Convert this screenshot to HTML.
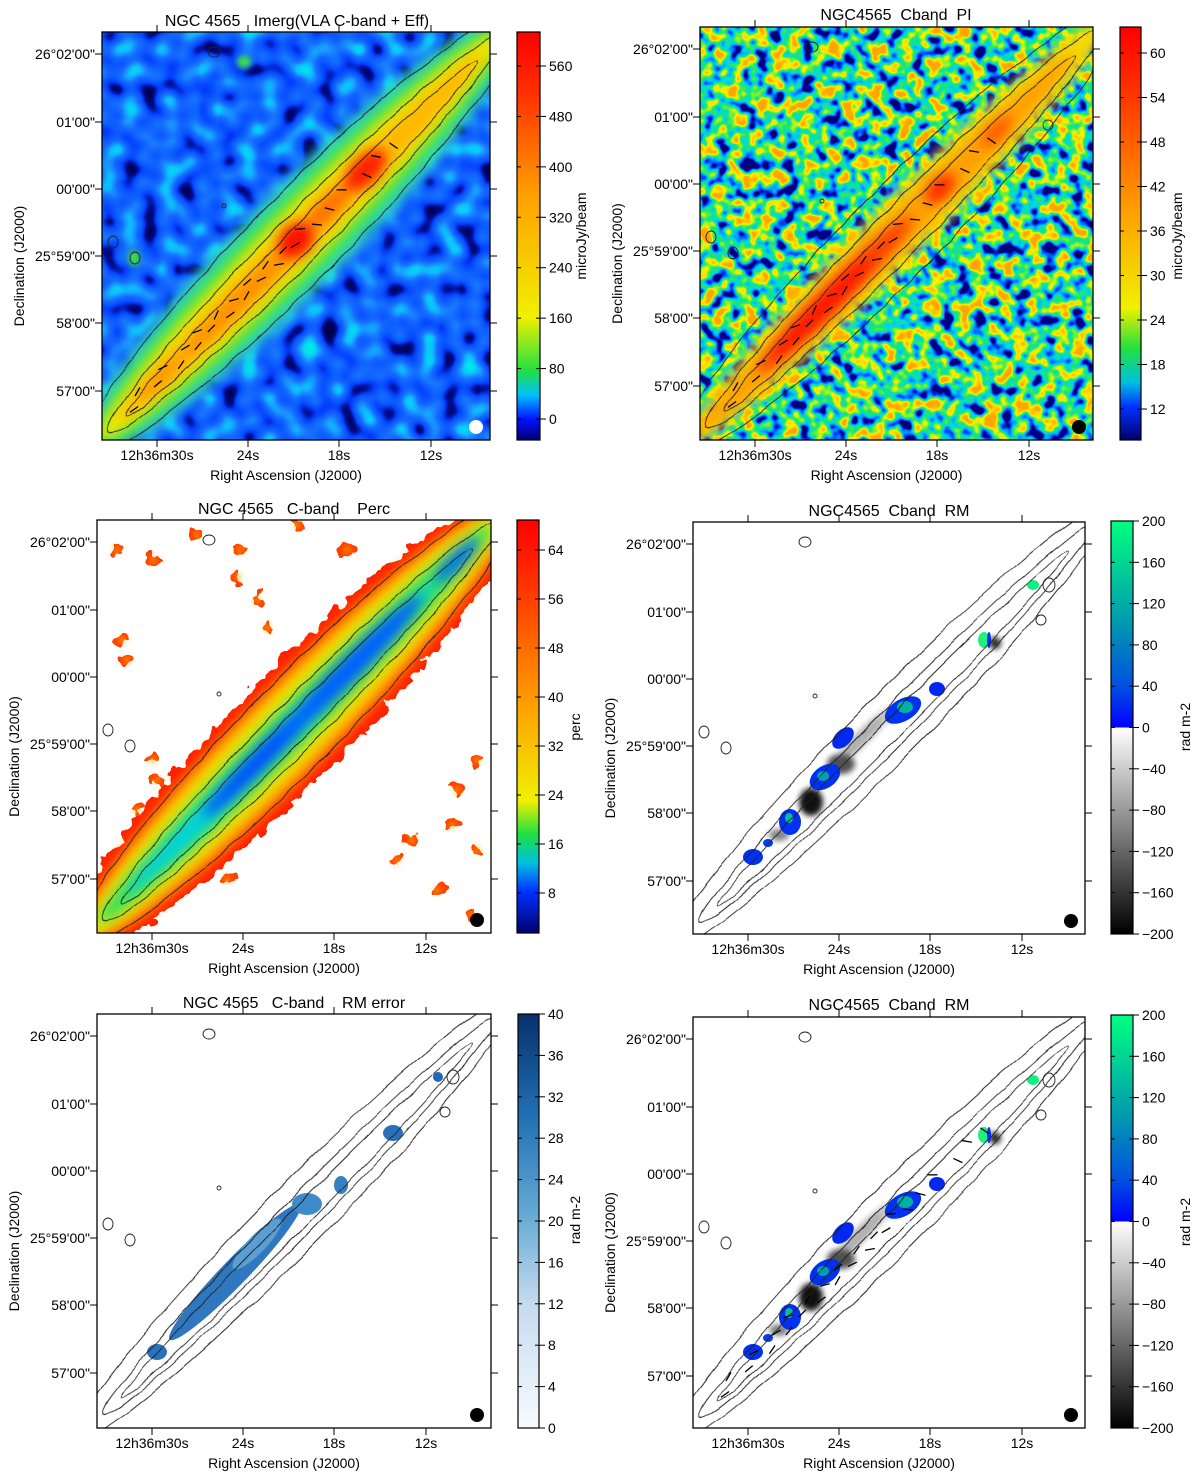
<!DOCTYPE html>
<html><head><meta charset="utf-8"><style>
html,body{margin:0;padding:0;background:#fff;}
svg{display:block;font-family:"Liberation Sans",sans-serif;}
text{fill:#000;}
filter{color-interpolation-filters:sRGB;}
</style></head><body>
<svg id="fig" xmlns="http://www.w3.org/2000/svg" width="1200" height="1480" viewBox="0 0 1200 1480">
<defs>
<filter id="noise1" x="0" y="0" width="1" height="1" filterUnits="objectBoundingBox" color-interpolation-filters="sRGB">
<feTurbulence type="fractalNoise" baseFrequency="0.05" numOctaves="1" seed="3"/>
<feColorMatrix type="matrix" values="1 0 0 0 0 1 0 0 0 0 1 0 0 0 0 0 0 0 0 1"/>
<feComponentTransfer><feFuncR type="linear" slope="1.8" intercept="-0.4"/><feFuncG type="linear" slope="1.8" intercept="-0.4"/><feFuncB type="linear" slope="1.8" intercept="-0.4"/></feComponentTransfer>
<feComponentTransfer><feFuncR type="table" tableValues="0 0 0.02 0.05 0.08 0.1 0.05 0"/><feFuncG type="table" tableValues="0 0.05 0.25 0.36 0.42 0.55 0.75 0.9"/><feFuncB type="table" tableValues="0.3 0.55 1 1 1 1 1 0.9"/></feComponentTransfer>
</filter>
<filter id="noise2" x="0" y="0" width="1" height="1" filterUnits="objectBoundingBox" color-interpolation-filters="sRGB">
<feTurbulence type="fractalNoise" baseFrequency="0.07" numOctaves="2" seed="7"/>
<feColorMatrix type="matrix" values="1 0 0 0 0 1 0 0 0 0 1 0 0 0 0 0 0 0 0 1"/>
<feComponentTransfer><feFuncR type="linear" slope="2.4" intercept="-0.72"/><feFuncG type="linear" slope="2.4" intercept="-0.72"/><feFuncB type="linear" slope="2.4" intercept="-0.72"/></feComponentTransfer>
<feComponentTransfer><feFuncR type="table" tableValues="0 0 0 0 0.1 0.5 1 1 1"/><feFuncG type="table" tableValues="0 0.25 0.6 0.85 0.9 0.95 0.95 0.8 0.65"/><feFuncB type="table" tableValues="0.5 1 1 0.9 0.45 0.2 0 0 0"/></feComponentTransfer>
</filter>
<filter id="blur6" x="-20%" y="-50%" width="140%" height="200%" color-interpolation-filters="sRGB"><feGaussianBlur stdDeviation="6"/></filter>
<filter id="blur3" x="-20%" y="-50%" width="140%" height="200%" color-interpolation-filters="sRGB"><feGaussianBlur stdDeviation="3"/></filter>
<filter id="crisp" x="-20%" y="-60%" width="140%" height="220%" color-interpolation-filters="sRGB">
<feGaussianBlur in="SourceGraphic" stdDeviation="4" result="b"/>
<feTurbulence type="fractalNoise" baseFrequency="0.08" numOctaves="2" seed="11" result="t"/>
<feDisplacementMap in="b" in2="t" scale="20" xChannelSelector="R" yChannelSelector="G" result="d"/>
<feComponentTransfer in="d"><feFuncA type="discrete" tableValues="0 0 1 1 1"/></feComponentTransfer>
</filter>
<filter id="wob" x="-20%" y="-50%" width="140%" height="200%">
<feTurbulence type="fractalNoise" baseFrequency="0.05" numOctaves="1" seed="5" result="t"/>
<feDisplacementMap in="SourceGraphic" in2="t" scale="5" xChannelSelector="R" yChannelSelector="G"/>
</filter>
<linearGradient id="cmap1" x1="0" y1="1" x2="0" y2="0"><stop offset="0" stop-color="#000070"/><stop offset="0.05" stop-color="#0010ff"/><stop offset="0.11" stop-color="#00c0ff"/><stop offset="0.17" stop-color="#20e040"/><stop offset="0.3" stop-color="#f0f000"/><stop offset="0.6" stop-color="#ffa000"/><stop offset="0.85" stop-color="#ff3000"/><stop offset="1" stop-color="#ff0000"/></linearGradient>
<linearGradient id="cmap2" x1="0" y1="1" x2="0" y2="0"><stop offset="0" stop-color="#000070"/><stop offset="0.08" stop-color="#0030ff"/><stop offset="0.14" stop-color="#00c0e0"/><stop offset="0.22" stop-color="#20e040"/><stop offset="0.32" stop-color="#f0f000"/><stop offset="0.55" stop-color="#ffa000"/><stop offset="0.85" stop-color="#ff3000"/><stop offset="1" stop-color="#ff0000"/></linearGradient>
<linearGradient id="cmap3" x1="0" y1="1" x2="0" y2="0"><stop offset="0" stop-color="#000070"/><stop offset="0.1" stop-color="#0030ff"/><stop offset="0.17" stop-color="#00c0e0"/><stop offset="0.24" stop-color="#20e040"/><stop offset="0.32" stop-color="#f0f000"/><stop offset="0.55" stop-color="#ffa000"/><stop offset="0.85" stop-color="#ff3000"/><stop offset="1" stop-color="#ff0000"/></linearGradient>
<linearGradient id="cmapRM" x1="0" y1="1" x2="0" y2="0"><stop offset="0" stop-color="#000000"/><stop offset="0.5" stop-color="#ffffff"/><stop offset="0.5" stop-color="#0000ff"/><stop offset="0.6" stop-color="#0050e0"/><stop offset="0.75" stop-color="#0098b0"/><stop offset="1" stop-color="#00ff80"/></linearGradient>
<linearGradient id="cmapErr" x1="0" y1="1" x2="0" y2="0"><stop offset="0" stop-color="#f7fbff"/><stop offset="0.3" stop-color="#c6dbef"/><stop offset="0.5" stop-color="#6baed6"/><stop offset="0.75" stop-color="#2171b5"/><stop offset="1" stop-color="#08306b"/></linearGradient>
</defs>
</svg>
<script>
// ---- colorbar data ----
const cb1Ticks=[0,80,160,240,320,400,480,560];
const cb2Ticks=[12,18,24,30,36,42,48,54,60];
const cb3Ticks=[8,16,24,32,40,48,56,64];
const cb4Ticks=[-200,-160,-120,-80,-40,0,40,80,120,160,200];
const cb5Ticks=[0,4,8,12,16,20,24,28,32,36,40];
const cb6Ticks=[-200,-160,-120,-80,-40,0,40,80,120,160,200];
const raLabels=["12h36m30s","24s","18s","12s"];
const decLabels=["26°02'00\"","01'00\"","00'00\"","25°59'00\"","58'00\"","57'00\""];
// polarization vectors (u along galaxy, v across, angle deg)
const vecU=[-240,-225,-205,-190,-175,-160,-150,-140,-128,-115,-105,-92,-80,-70,-58,-45,-35,-22,-10,5,20,40,62,90,110,130];
const vecV=[4,-6,3,-5,6,-3,5,-6,2,-4,6,-2,4,-5,3,-4,5,-2,3,-5,4,2,-3,5,-2,3];
const vecA=[10,-15,5,20,-10,15,-5,25,0,-20,10,30,-15,5,20,-10,35,0,15,40,50,60,45,70,55,80];

const NS='http://www.w3.org/2000/svg';
const svg=document.getElementById('fig');
function mk(tag,attrs,parent){const e=document.createElementNS(NS,tag);for(const k in attrs)e.setAttribute(k,attrs[k]);(parent||svg).appendChild(e);return e;}
const raX=[55,146,237,329];
const decY=[22,90,157,224,291,359];
const GCX=198,GCY=204,GANG=-45.3;

function panel(p){
  const g=mk('g',{});
  
  
  const cid='clip'+p.id;
  const cp=mk('clipPath',{id:cid},g);mk('rect',{x:p.ox,y:p.oy,width:p.w,height:p.h},cp);
  const plot=mk('g',{'clip-path':'url(#'+cid+')'},g);
  
  
  mk('rect',{x:p.ox,y:p.oy,width:p.w,height:p.h,fill:'#fff'},plot);
  if(p.noise) mk('rect',{x:p.ox,y:p.oy,width:p.w,height:p.h,filter:'url(#'+p.noise+')'},plot);
  const loc=mk('g',{transform:'translate('+p.ox+','+p.oy+')'},plot);
  const gal=mk('g',{transform:'translate('+(p.ox+GCX)+','+(p.oy+GCY)+') rotate('+GANG+')'},plot);
  p.draw(gal,loc);
  const ct=mk('g',{fill:'none',stroke:'#222','stroke-width':'0.9',filter:'url(#wob)'},gal);
  
  
  mk('ellipse',{cx:0,cy:0,rx:310,ry:p.cw[0]},ct);
  mk('ellipse',{cx:5,cy:2,rx:280,ry:p.cw[1]},ct);
  mk('ellipse',{cx:0,cy:3,rx:250,ry:p.cw[2]},ct);
  const cl=mk('g',{fill:'none',stroke:'#222','stroke-width':'0.9'},loc);
  mk('ellipse',{cx:112,cy:20,rx:6,ry:5},cl);
  mk('ellipse',{cx:11,cy:210,rx:5,ry:6},cl);
  mk('ellipse',{cx:33,cy:226,rx:5,ry:6},cl);
  mk('ellipse',{cx:122,cy:174,rx:2,ry:2},cl);
  mk('ellipse',{cx:348,cy:98,rx:5,ry:5},cl);
  mk('ellipse',{cx:356,cy:63,rx:6,ry:7},cl);
  if(p.vectors){
    const vg=mk('g',{stroke:'#000','stroke-width':'1.3'},gal);
    
    
    for(let i=0;i<vecU.length;i++){
      const l=mk('line',{x1:-5,y1:0,x2:5,y2:0,transform:'translate('+vecU[i]+','+vecV[i]+') rotate('+vecA[i]+')'},vg);
      
      
    }
  }
  const bm=mk('circle',{cx:p.ox+p.w-14,cy:p.oy+p.h-13,r:7,fill:p.beam},g);
  
  
  const fr=mk('rect',{x:p.ox,y:p.oy,width:p.w,height:p.h,fill:'none',stroke:'#000','stroke-width':'1.3'},g);
  
  
  const tg=mk('g',{stroke:'#000','stroke-width':'1'},g);
  raX.forEach(x=>{mk('line',{x1:p.ox+x,y1:p.oy+p.h,x2:p.ox+x,y2:p.oy+p.h+7},tg);mk('line',{x1:p.ox+x,y1:p.oy,x2:p.ox+x,y2:p.oy-7},tg);});
  decY.forEach(y=>{mk('line',{x1:p.ox,y1:p.oy+y,x2:p.ox-7,y2:p.oy+y},tg);mk('line',{x1:p.ox+p.w,y1:p.oy+y,x2:p.ox+p.w+7,y2:p.oy+y},tg);});
  raLabels.forEach((s,i)=>{const t=mk('text',{x:p.ox+raX[i],y:p.oy+p.h+20,'font-size':14,'text-anchor':'middle'},g);t.textContent=s;});
  decLabels.forEach((s,i)=>{const t=mk('text',{x:p.ox-7,y:p.oy+decY[i]+5,'font-size':14,'text-anchor':'end'},g);t.textContent=s;});
  let t=mk('text',{x:p.ox+p.w/2-10,y:p.oy+p.h+40,'font-size':14,'text-anchor':'middle'},g);t.textContent='Right Ascension (J2000)';
  
  t=mk('text',{x:0,y:0,'font-size':14,'text-anchor':'middle',transform:'translate('+(p.ox-78)+','+(p.oy+p.h/2+30)+') rotate(-90)'},g);t.textContent='Declination (J2000)';
  
  t=mk('text',{x:p.tx,y:p.ty,'font-size':16,'text-anchor':'middle','xml:space':'preserve'},g);t.textContent=p.title;
  t.style.whiteSpace='pre';
  
  const c=p.cb;
  const cbg=mk('g',{},g);
  
  
  mk('rect',{x:c.x,y:c.y0,width:c.w,height:c.y1-c.y0,fill:'url(#'+c.grad+')',stroke:'#000','stroke-width':'1.2'},cbg);
  const sc=v=>c.py0+(v-c.v0)*(c.py1-c.py0)/(c.v1-c.v0);
  c.ticks.forEach(v=>{const y=sc(v);
    mk('line',{x1:c.x+c.w,y1:y,x2:c.x+c.w+6,y2:y,stroke:'#000'},cbg);
    mk('line',{x1:c.x,y1:y,x2:c.x+4,y2:y,stroke:'#000'},cbg);
    mk('line',{x1:c.x+c.w-4,y1:y,x2:c.x+c.w,y2:y,stroke:'#000'},cbg);
    const tl=mk('text',{x:c.x+c.w+9,y:y+5,'font-size':14},cbg);tl.textContent=(v<0?'\u2212'+(-v):String(v));
    });
  t=mk('text',{x:0,y:0,'font-size':14,'text-anchor':'middle',transform:'translate('+c.lx+','+c.ly+') rotate(-90)'},cbg);t.textContent=c.label;
  
}
function el(par,cx,cy,rx,ry,fill,extra){const e=mk('ellipse',Object.assign({cx:cx,cy:cy,rx:rx,ry:ry,fill:fill},extra||{}),par);return e;}

panel({id:1,name:'panel-total-intensity',ox:102,oy:32,w:388,h:408,noise:'noise1',beam:'#fff',cw:[44,24,13],vectors:true,
 title:'NGC 4565   Imerg(VLA C-band + Eff)',tx:297,ty:26,
 cb:{x:517,w:23,y0:32,y1:440,grad:'cmap1',ticks:cb1Ticks,v0:0,v1:560,py0:419,py1:66,label:'microJy/beam',lx:586,ly:236},
 draw:(gal,loc)=>{const b=mk('g',{filter:'url(#blur6)'},gal);
  el(b,0,0,310,50,'#30d8c0');el(b,0,0,300,38,'#40e040');el(b,0,0,285,28,'#f0ea00');el(b,0,1,260,17,'#ffb800');
  el(b,-80,2,90,10,'#ff9000');el(b,-6,0,20,16,'#ff1000');el(b,93,0,26,14,'#ff2000');el(b,40,0,30,10,'#ff7000');el(b,-200,0,30,9,'#ff9800');
  const s=mk('g',{filter:'url(#blur3)'},loc);el(s,142,30,7,6,'#40e040');el(s,32,226,6,8,'#40e040');el(s,344,98,6,6,'#f0d000');}});
panel({id:2,name:'panel-polarized-intensity',ox:700,oy:27,w:393,h:413,noise:'noise2',beam:'#000',cw:[44,24,13],vectors:true,
 title:'NGC4565  Cband  PI',tx:896,ty:20,
 cb:{x:1120,w:21,y0:27,y1:440,grad:'cmap2',ticks:cb2Ticks,v0:12,v1:60,py0:409,py1:53,label:'microJy/beam',lx:1182,ly:236},
 draw:(gal,loc)=>{const b=mk('g',{filter:'url(#blur6)'},gal);
  el(b,0,0,300,28,'#f8d800');el(b,-20,0,270,17,'#ffa000');el(b,-90,0,110,14,'#ff4000');el(b,-110,0,70,10,'#ff1800');el(b,60,0,18,10,'#ff2800');el(b,140,0,20,10,'#ff6000');}});
panel({id:3,name:'panel-fractional-polarization',ox:97,oy:520,w:394,h:413,beam:'#000',cw:[44,24,13],
 title:'NGC 4565   C-band    Perc',tx:294,ty:514,
 cb:{x:517,w:22,y0:520,y1:933,grad:'cmap3',ticks:cb3Ticks,v0:8,v1:64,py0:893,py1:550,label:'perc',lx:580,ly:727},
 draw:(gal,loc)=>{const r=mk('g',{filter:'url(#crisp)'},gal);
  el(r,0,0,320,54,'#ff2000');
  const o=mk('g',{filter:'url(#blur6)'},gal);
  el(o,0,0,310,44,'#ff9000');el(o,0,0,300,36,'#f8d000');el(o,0,0,290,28,'#e8f000');
  el(o,0,0,280,20,'#30e060');el(o,-20,0,220,12,'#00d0e0');el(o,-40,0,90,10,'#0050ff');el(o,80,0,100,12,'#0060ff');el(o,230,0,30,8,'#0070f0');
  const d=mk('g',{filter:'url(#blur3)'},loc);
  el(d,198,210,14,18,'#000060');el(d,263,137,14,16,'#0010a0');el(d,90,335,10,8,'#0010a0');el(d,360,48,8,8,'#0020c0');el(d,323,77,10,14,'#0040e0');el(d,230,175,10,10,'#0050ff');
  const s=mk('g',{filter:'url(#crisp)'},loc);
  const pts=[[56,40],[143,30],[56,240],[141,57],[250,30],[380,240],[160,80],[40,290],[360,270],[340,370],[300,340],[130,360],[60,260],[380,330],[30,140],[170,108],[25,120],[20,30],[375,395],[100,15],[200,5],[315,320],[355,305]];
  pts.forEach(q=>el(s,q[0],q[1],7,6,'#ff4000'));
  const s2=mk('g',{filter:'url(#blur3)'},loc);
  pts.forEach(q=>el(s2,q[0],q[1],3,3,'#ffb000'));}});
function rmBlobs(gal,loc){
  const gr=mk('g',{filter:'url(#blur3)'},loc);
  el(gr,170,215,40,7,'#b0b0b0',{transform:'rotate(-45 170 215)'});el(gr,148,242,14,10,'#505050');el(gr,118,280,12,14,'#101010');el(gr,86,313,10,6,'#808080');el(gr,302,121,6,6,'#202020');el(gr,196,196,10,5,'#c8c8c8');
  const bl=mk('g',{},loc);
  
  
  el(bl,340,63,6,5,'#10f080');el(bl,291,118,6,8,'#20f080');el(bl,296,118,2,8,'#0030ff');
  el(bl,244,167,8,7,'#0028f0');el(bl,210,188,20,11,'#0030f0',{transform:'rotate(-30 210 188)'});el(bl,212,185,8,6,'#00b0a0');
  el(bl,150,216,13,8,'#0028f0',{transform:'rotate(-45 150 216)'});el(bl,132,255,17,11,'#0030f0',{transform:'rotate(-35 132 255)'});el(bl,130,254,6,5,'#00a0b0');
  el(bl,97,300,11,13,'#0030f0');el(bl,96,296,4,5,'#00c0a0');el(bl,75,321,5,4,'#0040f0');el(bl,60,335,10,8,'#0030f0');
}
panel({id:4,name:'panel-rotation-measure',ox:693,oy:522,w:392,h:412,beam:'#000',cw:[32,18,10],
 title:'NGC4565  Cband  RM',tx:889,ty:516,
 cb:{x:1111,w:22,y0:521,y1:934,grad:'cmapRM',ticks:cb4Ticks,v0:-200,v1:200,py0:934,py1:521,label:'rad m-2',lx:1190,ly:727},
 draw:rmBlobs});
panel({id:5,name:'panel-rm-error',ox:97,oy:1014,w:394,h:414,beam:'#000',cw:[32,18,10],
 title:'NGC 4565   C-band    RM error',tx:294,ty:1008,
 cb:{x:518,w:21,y0:1014,y1:1428,grad:'cmapErr',ticks:cb5Ticks,v0:0,v1:40,py0:1428,py1:1014,label:'rad m-2',lx:580,ly:1220},
 draw:(gal,loc)=>{const bl=mk('g',{},loc);
  el(bl,138,258,94,13,'#2f78c0',{transform:'rotate(-46 138 258)'});el(bl,160,230,34,9,'#5a9ed4',{transform:'rotate(-46 160 230)'});
  el(bl,210,190,15,11,'#3f8aca');el(bl,60,338,10,8,'#2a72bc');el(bl,244,171,7,9,'#3580c4');el(bl,296,119,10,8,'#2a70bc');el(bl,341,63,5,5,'#2068b5');}});
panel({id:6,name:'panel-rotation-measure-vectors',ox:693,oy:1017,w:392,h:411,beam:'#000',cw:[32,18,10],vectors:true,
 title:'NGC4565  Cband  RM',tx:889,ty:1010,
 cb:{x:1111,w:22,y0:1015,y1:1428,grad:'cmapRM',ticks:cb6Ticks,v0:-200,v1:200,py0:1428,py1:1015,label:'rad m-2',lx:1190,ly:1222},
 draw:rmBlobs});
</script>
</body></html>
